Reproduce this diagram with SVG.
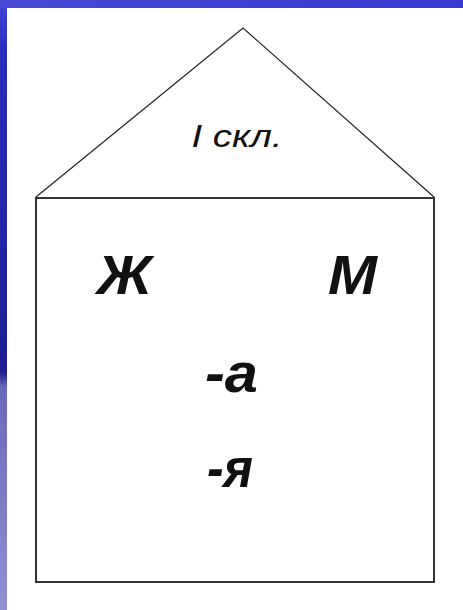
<svg xmlns="http://www.w3.org/2000/svg" width="463" height="610" viewBox="0 0 463 610">
  <style>
    .roof { fill: none; stroke: #222; stroke-width: 1.2; stroke-linejoin: miter; }
    .wall { fill: none; stroke: #333; stroke-width: 2; }
    .lbl { font-family: "Liberation Sans", Arial, sans-serif; font-style: italic; fill: #111; }
    .big { font-size: 56px; font-weight: bold; }
    .small { font-size: 32px; }
  </style>
  <defs>
    <linearGradient id="strip" x1="0" y1="0" x2="0" y2="1">
      <stop offset="0" stop-color="#4646d6"/>
      <stop offset="0.08" stop-color="#2c2cbc"/>
      <stop offset="0.35" stop-color="#2424a8"/>
      <stop offset="0.61" stop-color="#1e1e90"/>
      <stop offset="0.635" stop-color="#6a6ab8"/>
      <stop offset="0.8" stop-color="#7a7ac4"/>
      <stop offset="1" stop-color="#9090d4"/>
    </linearGradient>
    <linearGradient id="band" x1="0" y1="0" x2="1" y2="0">
      <stop offset="0" stop-color="#4848d4"/>
      <stop offset="1" stop-color="#3838d0"/>
    </linearGradient>
  </defs>
  <rect x="0" y="0" width="463" height="610" fill="url(#strip)"/>
  <rect x="0" y="0" width="463" height="8" fill="url(#band)"/>
  <rect x="7" y="8" width="456" height="602" fill="#ffffff"/>

  <g id="roof">
    <polyline class="roof" points="36,197 243,28 434,197"/>
    <text class="lbl small" x="237" y="147" text-anchor="middle" textLength="91" lengthAdjust="spacingAndGlyphs">I скл.</text>
  </g>
  <g id="walls">
    <rect class="wall" x="36" y="198" width="398" height="384"/>
  </g>
  <g id="zh">
    <text class="lbl big" x="124.5" y="294" text-anchor="middle" textLength="55" lengthAdjust="spacingAndGlyphs">Ж</text>
  </g>
  <g id="m">
    <text class="lbl big" x="352.5" y="294" text-anchor="middle" textLength="49" lengthAdjust="spacingAndGlyphs">М</text>
  </g>
  <g id="end-a">
    <text class="lbl big" x="231.5" y="392" text-anchor="middle" textLength="53" lengthAdjust="spacingAndGlyphs">-а</text>
  </g>
  <g id="end-ya">
    <text class="lbl big" x="230" y="487" text-anchor="middle" textLength="46" lengthAdjust="spacingAndGlyphs">-я</text>
  </g>
  <g id="connectors"></g>
</svg>
